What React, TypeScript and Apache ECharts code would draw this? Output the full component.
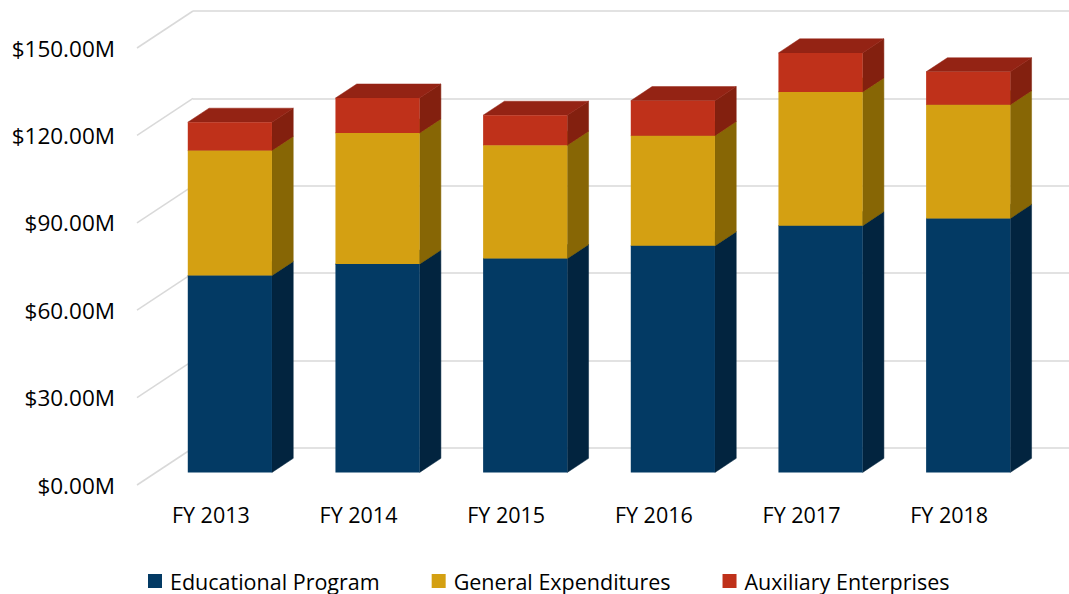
import React, { useEffect, useRef } from "react";
import * as echarts from "echarts";

const categories = ["FY 2013", "FY 2014", "FY 2015", "FY 2016", "FY 2017", "FY 2018"];
const educational = [67.6, 71.5, 73.4, 77.8, 84.7, 87.2];
const general = [42.9, 45.0, 38.9, 37.8, 45.9, 39.0];
const auxiliary = [9.7, 12.0, 10.3, 12.0, 13.4, 11.3];
const yTicks = [0, 30, 60, 90, 120, 150];
const seriesNames = ["Educational Program", "General Expenditures", "Auxiliary Enterprises"];

const COLORS = [
  { front: "#033A64", side: "#02243F", top: "#022F52" },
  { front: "#D4A012", side: "#876605", top: "#A87F0C" },
  { front: "#BF311A", side: "#83200F", top: "#942314" },
];

const FONT = "Open Sans";
const DEPTH_DX = 56;
const DEPTH_DY = 37;
const BAR_OFF = 0.34;
const BAR_DEPTH = 0.38;
const BAR_WIDTH_FRAC = 0.57;
const GRID_LEFT = 137;
const GRID_TOP = 48;
const GRID_BOTTOM = 109;
const GRID_RIGHT = 46;

function makeBarRender(c: { front: string; side: string; top: string }) {
  return (params: any, api: any) => {
    const i = api.value(0);
    const lo = api.coord([i, api.value(1)]);
    const hi = api.coord([i, api.value(2)]);
    const w = api.size([1, 0])[0] * BAR_WIDTH_FRAC;
    const ox = DEPTH_DX * BAR_OFF;
    const oy = -DEPTH_DY * BAR_OFF;
    const dx = DEPTH_DX * BAR_DEPTH;
    const dy = -DEPTH_DY * BAR_DEPTH;
    const x0 = lo[0] - w / 2 + ox;
    const x1 = lo[0] + w / 2 + ox;
    const yb = lo[1] + oy;
    const yt = hi[1] + oy;
    return {
      type: "group",
      children: [
        {
          type: "polygon",
          shape: { points: [[x1, yb], [x1 + dx, yb + dy], [x1 + dx, yt + dy], [x1, yt]] },
          style: { fill: c.side, stroke: c.side, lineWidth: 0.5 },
        },
        {
          type: "polygon",
          shape: { points: [[x0, yt], [x1, yt], [x1 + dx, yt + dy], [x0 + dx, yt + dy]] },
          style: { fill: c.top, stroke: c.top, lineWidth: 0.5 },
        },
        {
          type: "rect",
          shape: { x: x0, y: yt, width: w, height: yb - yt },
          style: { fill: c.front },
        },
      ],
    };
  };
}

export default function App() {
  const ref = useRef<HTMLDivElement>(null);
  useEffect(() => {
    if (!ref.current) return;
    const chart = echarts.init(ref.current, undefined, { renderer: "svg" });
    const layers = [educational, general, auxiliary];
    const bases: number[][] = [];
    let acc = categories.map(() => 0);
    layers.forEach((layer) => {
      bases.push(acc.slice());
      acc = acc.map((a, i) => a + layer[i]);
    });
    const barSeries = layers.map((layer, k) => ({
      type: "custom",
      name: seriesNames[k],
      xAxisIndex: 0,
      yAxisIndex: 0,
      z: 10 + k,
      itemStyle: { color: COLORS[k].front },
      encode: { x: 0, y: [1, 2] },
      renderItem: makeBarRender(COLORS[k]),
      data: layer.map((v, i) => [i, bases[k][i], bases[k][i] + v]),
    }));
    const diagSeries = {
      type: "custom",
      xAxisIndex: 0,
      yAxisIndex: 0,
      z: 1,
      silent: true,
      encode: { x: 0, y: 1 },
      renderItem: (params: any, api: any) => {
        const p = api.coord([0, api.value(1)]);
        const left = params.coordSys.x;
        return {
          type: "line",
          shape: { x1: left, y1: p[1], x2: left + DEPTH_DX, y2: p[1] - DEPTH_DY },
          style: { stroke: "#D9D9D9", lineWidth: 1.5 },
        };
      },
      data: yTicks.map((v) => [0, v]),
    };
    chart.setOption({
      animation: false,
      backgroundColor: "#ffffff",
      legend: {
        data: seriesNames,
        top: 565,
        left: 143,
        icon: "rect",
        itemWidth: 14,
        itemHeight: 14,
        itemGap: 52,
        textStyle: { fontFamily: FONT, fontSize: 21.5, color: "#000000", padding: [0, 0, 0, 3] },
      },
      grid: [
        { left: GRID_LEFT, top: GRID_TOP, bottom: GRID_BOTTOM, right: GRID_RIGHT },
        { left: GRID_LEFT + DEPTH_DX, top: GRID_TOP - DEPTH_DY, bottom: GRID_BOTTOM + DEPTH_DY, right: -20 },
      ],
      xAxis: [
        {
          type: "category",
          gridIndex: 0,
          data: categories,
          axisLine: { show: false },
          axisTick: { show: false },
          axisLabel: { fontFamily: FONT, fontSize: 21.5, color: "#000000", margin: 18 },
        },
        {
          type: "category",
          gridIndex: 1,
          data: categories,
          show: false,
        },
      ],
      yAxis: [
        {
          type: "value",
          gridIndex: 0,
          min: 0,
          max: 150,
          interval: 30,
          splitLine: { show: false },
          axisLine: { show: false },
          axisTick: { show: false },
          axisLabel: {
            fontFamily: FONT,
            fontSize: 22.5,
            color: "#000000",
            margin: 22,
            formatter: (v: number) => "$" + v.toFixed(2) + "M",
          },
        },
        {
          type: "value",
          gridIndex: 1,
          min: 0,
          max: 150,
          interval: 30,
          axisLine: { show: false },
          axisTick: { show: false },
          axisLabel: { show: false },
          splitLine: { show: true, lineStyle: { color: "#D9D9D9", width: 1.5 } },
        },
      ],
      series: [diagSeries, ...barSeries],
    });
    return () => chart.dispose();
  }, []);
  return (
    <div
      ref={ref}
      style={{ position: "absolute", left: 0, top: 0, width: 1069, height: 594 }}
    />
  );
}
